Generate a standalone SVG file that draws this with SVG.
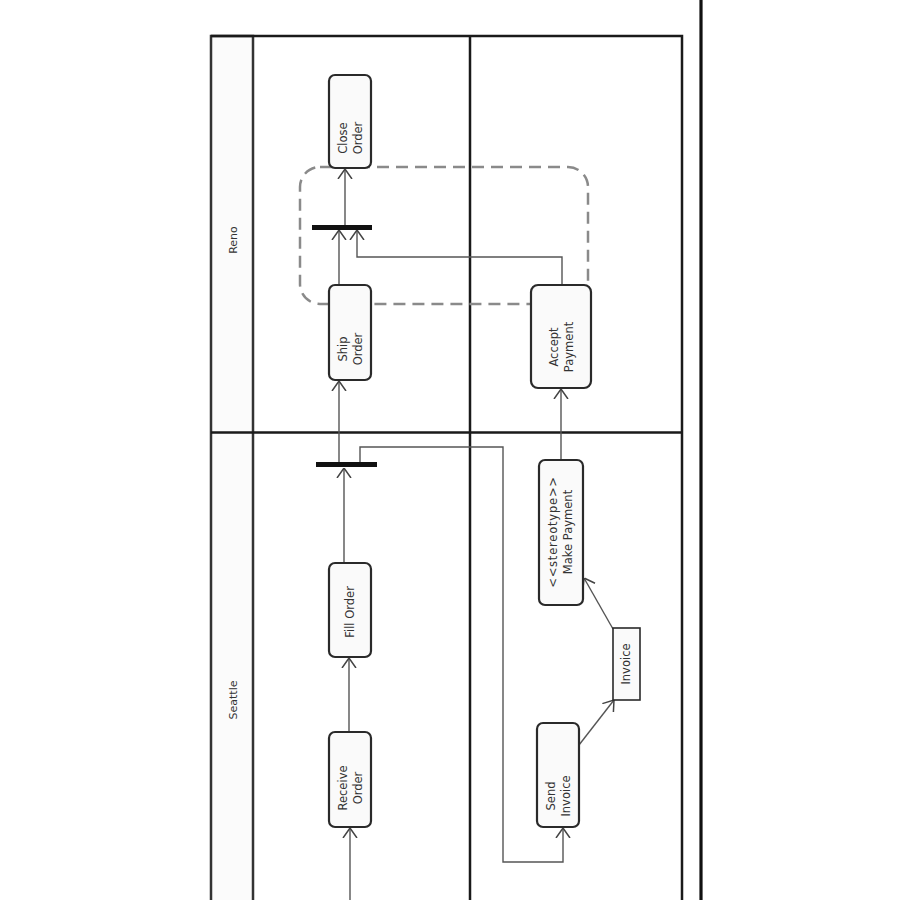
<svg xmlns="http://www.w3.org/2000/svg" width="900" height="900" viewBox="0 0 900 900">
<defs>
<marker id="arr" viewBox="0 0 10 16" refX="10" refY="8" markerWidth="10" markerHeight="16" markerUnits="userSpaceOnUse" orient="auto">
<path d="M0,1 L10,8 L0,15" fill="none" stroke="#444" stroke-width="1.5"/>
</marker>
<style>
.frame{fill:none;stroke:#1a1a1a;stroke-width:2.5}
.hdr{fill:#fbfbfb;stroke:#333;stroke-width:2.5}
.act{fill:#fafafa;stroke:#2a2a2a;stroke-width:2.2}
.obj{fill:#fafafa;stroke:#2a2a2a;stroke-width:1.6}
.bar{fill:#111}
.txt{font-family:"DejaVu Sans",sans-serif;font-size:11.5px;fill:#333;text-anchor:middle}
.lane{font-family:"DejaVu Sans",sans-serif;font-size:11px;fill:#333;text-anchor:middle}
.con{fill:none;stroke:#555;stroke-width:1.4}
.region{fill:none;stroke:#8a8a8a;stroke-width:2.5;stroke-dasharray:12 7}
</style>
</defs>
<rect width="900" height="900" fill="#ffffff"/>
<g id="frame">
<rect class="hdr" x="211" y="36" width="42" height="880"/>
<path class="frame" d="M211,36 H682 V905 M470,36 V905 M211,432.5 H682"/>
<line x1="701" y1="0" x2="701" y2="900" stroke="#111" stroke-width="3.2"/>
</g>
<g id="lane-reno"><text class="lane" transform="translate(237,240) rotate(-90)">Reno</text></g>
<g id="lane-seattle"><text class="lane" transform="translate(237,700) rotate(-90)">Seattle</text></g>
<g id="region"><rect class="region" x="300" y="167" width="288" height="137" rx="20"/></g>
<g id="connectors">
<path class="con" d="M350,900 V828" marker-end="url(#arr)"/>
<path class="con" d="M349,732 V658" marker-end="url(#arr)"/>
<path class="con" d="M344,563 V468" marker-end="url(#arr)"/>
<path class="con" d="M339,463 V381" marker-end="url(#arr)"/>
<path class="con" d="M360,463 V447 H503 V862 H563 V828" marker-end="url(#arr)"/>
<path class="con" d="M339,285 V230" marker-end="url(#arr)"/>
<path class="con" d="M562,285 V257 H357 V230" marker-end="url(#arr)"/>
<path class="con" d="M345,225 V169" marker-end="url(#arr)"/>
<path class="con" d="M561,460 V389" marker-end="url(#arr)"/>
<path class="con" d="M579,745 L614,700" marker-end="url(#arr)"/>
<path class="con" d="M613,629 L584,578" marker-end="url(#arr)"/>
</g>
<g id="close-order"><rect class="act" x="329" y="75" width="42" height="93" rx="6"/>
<text class="txt" transform="translate(350,138) rotate(-90)"><tspan x="0" y="-3">Close</tspan><tspan x="0" y="12">Order</tspan></text></g>
<g id="fork-top"><rect class="bar" x="312" y="225" width="60" height="5"/></g>
<g id="ship-order"><rect class="act" x="329" y="285" width="42" height="95" rx="6"/>
<text class="txt" transform="translate(350,349) rotate(-90)"><tspan x="0" y="-3">Ship</tspan><tspan x="0" y="12">Order</tspan></text></g>
<g id="accept-payment"><rect class="act" x="531" y="285" width="60" height="103" rx="7"/>
<text class="txt" transform="translate(561,347) rotate(-90)"><tspan x="0" y="-3">Accept</tspan><tspan x="0" y="12">Payment</tspan></text></g>
<g id="fork-bottom"><rect class="bar" x="316" y="462" width="61" height="5"/></g>
<g id="make-payment"><rect class="act" x="539" y="460" width="44" height="145" rx="6"/>
<text class="txt" transform="translate(560,532) rotate(-90)"><tspan x="0" y="-3" letter-spacing="0.8">&lt;&lt;stereotype&gt;&gt;</tspan><tspan x="0" y="12">Make Payment</tspan></text></g>
<g id="fill-order"><rect class="act" x="329" y="563" width="42" height="94" rx="6"/>
<text class="txt" transform="translate(350,612) rotate(-90)"><tspan x="0" y="4">Fill Order</tspan></text></g>
<g id="invoice"><rect class="obj" x="613" y="628" width="27" height="72"/>
<text class="txt" transform="translate(626,664) rotate(-90)"><tspan x="0" y="4">Invoice</tspan></text></g>
<g id="receive-order"><rect class="act" x="329" y="732" width="42" height="95" rx="6"/>
<text class="txt" transform="translate(350,788) rotate(-90)"><tspan x="0" y="-3">Receive</tspan><tspan x="0" y="12">Order</tspan></text></g>
<g id="send-invoice"><rect class="act" x="537" y="723" width="42" height="104" rx="6"/>
<text class="txt" transform="translate(558,796) rotate(-90)"><tspan x="0" y="-3">Send</tspan><tspan x="0" y="12">Invoice</tspan></text></g>
</svg>
